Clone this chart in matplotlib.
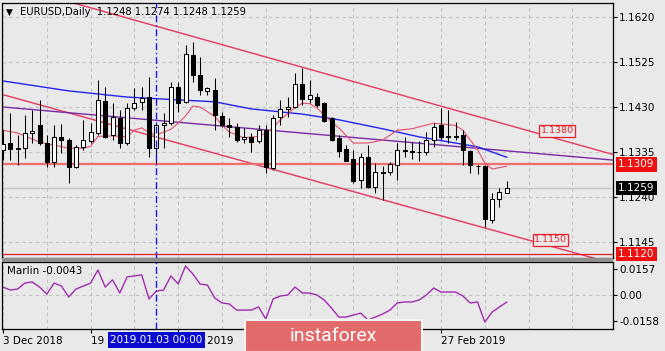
import matplotlib
matplotlib.use('Agg')
import matplotlib.pyplot as plt
import matplotlib.transforms as mtransforms
from matplotlib.patches import Rectangle

# ---------------- data ----------------
opens = [1.1340, 1.1354, 1.1341, 1.1343, 1.1375, 1.1392, 1.1354, 1.1314, 1.1367, 1.1360,
         1.1303, 1.1345, 1.1358, 1.1375, 1.1443, 1.1371, 1.1407, 1.1354, 1.1428, 1.1441,
         1.1451, 1.1343, 1.1392, 1.1396, 1.1472, 1.1441, 1.1540, 1.1498, 1.1464, 1.1466,
         1.1411, 1.1392, 1.1388, 1.1363, 1.1367, 1.1358, 1.1382, 1.1302, 1.1409, 1.1426,
         1.1430, 1.1479, 1.1447, 1.1451, 1.1438, 1.1407, 1.1365, 1.1341, 1.1320, 1.1276,
         1.1324, 1.1261, 1.1293, 1.1293, 1.1308, 1.1339, 1.1337, 1.1335, 1.1335, 1.1360,
         1.1392, 1.1367, 1.1369, 1.1371, 1.1337, 1.1306, 1.1306, 1.1192, 1.1236, 1.1248]
highs = [1.1381, 1.1417, 1.1371, 1.1413, 1.1424, 1.1445, 1.1371, 1.1392, 1.1394, 1.1365,
         1.1350, 1.1403, 1.1396, 1.1487, 1.1472, 1.1438, 1.1424, 1.1438, 1.1470, 1.1472,
         1.1493, 1.1396, 1.1417, 1.1483, 1.1483, 1.1561, 1.1567, 1.1536, 1.1472, 1.1491,
         1.1419, 1.1407, 1.1396, 1.1385, 1.1375, 1.1392, 1.1392, 1.1413, 1.1445, 1.1451,
         1.1502, 1.1512, 1.1487, 1.1460, 1.1441, 1.1409, 1.1371, 1.1350, 1.1339, 1.1333,
         1.1350, 1.1312, 1.1305, 1.1314, 1.1354, 1.1367, 1.1356, 1.1358, 1.1377, 1.1396,
         1.1428, 1.1424, 1.1398, 1.1381, 1.1339, 1.1308, 1.1308, 1.1248, 1.1259, 1.1274]
lows = [1.1318, 1.1318, 1.1308, 1.1322, 1.1354, 1.1350, 1.1303, 1.1303, 1.1333, 1.1270,
        1.1301, 1.1339, 1.1354, 1.1371, 1.1365, 1.1360, 1.1343, 1.1350, 1.1424, 1.1424,
        1.1324, 1.1312, 1.1343, 1.1392, 1.1419, 1.1438, 1.1483, 1.1455, 1.1455, 1.1381,
        1.1388, 1.1367, 1.1356, 1.1355, 1.1335, 1.1354, 1.1291, 1.1297, 1.1392, 1.1409,
        1.1428, 1.1434, 1.1438, 1.1430, 1.1398, 1.1358, 1.1324, 1.1316, 1.1270, 1.1259,
        1.1259, 1.1248, 1.1234, 1.1287, 1.1276, 1.1324, 1.1320, 1.1316, 1.1329, 1.1346,
        1.1360, 1.1354, 1.1360, 1.1308, 1.1291, 1.1288, 1.1177, 1.1185, 1.1219, 1.1248]
closes = [1.1352, 1.1341, 1.1343, 1.1375, 1.1379, 1.1354, 1.1314, 1.1367, 1.1360, 1.1303,
          1.1345, 1.1360, 1.1377, 1.1445, 1.1367, 1.1409, 1.1354, 1.1428, 1.1438, 1.1449,
          1.1343, 1.1392, 1.1396, 1.1472, 1.1438, 1.1542, 1.1498, 1.1466, 1.1470, 1.1413,
          1.1392, 1.1388, 1.1360, 1.1366, 1.1357, 1.1382, 1.1303, 1.1407, 1.1426, 1.1430,
          1.1479, 1.1447, 1.1455, 1.1434, 1.1400, 1.1360, 1.1337, 1.1316, 1.1274, 1.1324,
          1.1261, 1.1293, 1.1291, 1.1310, 1.1339, 1.1337, 1.1335, 1.1335, 1.1360, 1.1388,
          1.1367, 1.1369, 1.1367, 1.1339, 1.1308, 1.1305, 1.1194, 1.1236, 1.1250, 1.1259]

marlin = [0.0048, 0.0030, 0.0036, 0.0072, 0.0079, 0.0048, 0.0006, 0.0072, 0.0054, -0.0012,
          0.0036, 0.0054, 0.0072, 0.0151, 0.0048, 0.0091, 0.0012, 0.0109, 0.0115, 0.0121,
          -0.0024, 0.0024, 0.0030, 0.0115, 0.0066, 0.0175, 0.0127, 0.0066, 0.0060, -0.0018,
          -0.0048, -0.0054, -0.0091, -0.0091, -0.0091, -0.0072, -0.0145, -0.0024, -0.0006, 0.0000,
          0.0048, 0.0012, 0.0012, 0.0000, -0.0030, -0.0079, -0.0133, -0.0133, -0.0121, -0.0109,
          -0.0151, -0.0133, -0.0115, -0.0091, -0.0048, -0.0042, -0.0042, -0.0030, 0.0000, 0.0042,
          0.0018, 0.0018, 0.0018, -0.0006, -0.0048, -0.0042, -0.0163, -0.0103, -0.0072, -0.0043]

blue_ma_bars = [0, 9, 17, 24, 29, 34, 41, 46, 52, 57, 65, 69]
blue_ma_vals = [1.1485, 1.1464, 1.1451, 1.1445, 1.1441, 1.1426, 1.1415, 1.1403, 1.1384,
                1.1367, 1.1346, 1.1324]

red_ma_bars = [0, 2, 5, 9, 11, 12, 13, 15, 17, 18, 19, 20, 21, 23, 24, 25, 26, 27, 29, 30,
               31, 33, 35, 36, 37, 38, 40, 41, 42, 43, 45, 46, 48, 50, 52, 54, 56, 59, 62,
               63, 65, 66, 67, 69]
red_ma_vals = [1.1381, 1.1375, 1.1356, 1.1343, 1.1343, 1.1347, 1.1368, 1.1369, 1.1367, 1.1381,
               1.1386, 1.1376, 1.1371, 1.1383, 1.1396, 1.1411, 1.1432, 1.1430, 1.1410, 1.1392,
               1.1377, 1.1365, 1.1368, 1.1375, 1.1386, 1.1403, 1.1429, 1.1438, 1.1437, 1.1428,
               1.1398, 1.1386, 1.1354, 1.1354, 1.1360, 1.1381, 1.1384, 1.1396, 1.1391,
               1.1381, 1.1340, 1.1312, 1.1299, 1.1305]

line_bars = [0, 83.5]
channel_upper = [1.16915, 1.1330]
channel_lower = [1.1456, 1.1100]
purple_line = [1.1430, 1.1318]

support_level = 1.1309
low_level = 1.1120
label_upper = (75.9, 1.1380)
label_lower = (75.0, 1.1150)

price_ticks = [1.1620, 1.1525, 1.1430, 1.1335, 1.1240, 1.1145]
marlin_ticks = [0.0157, 0.0, -0.0158]
marlin_tick_labels = ['0.0157', '0.00', '-0.0158']
# labels at 24 Jan / 11 Feb are fully hidden by the watermark in the reference
date_bars = [0, 12, 24, 36, 48, 60]
date_labels = ['3 Dec 2018', '19 Dec 2018', '8 Jan 2019', '', '', '27 Feb 2019']
cursor_bar = 21
cursor_label = '2019.01.03 00:00'

# ---------------- layout ----------------
W, H = 665, 351
def fx(px): return px / W
def fy(py): return 1 - py / H

bg = '#e9e9e9'
grid_c = '#c2c2c2'
fs = 7.5
plt.rcParams['font.family'] = ['DejaVu Sans']

fig = plt.figure(figsize=(6.65, 3.51), dpi=100)
fig.patch.set_facecolor(bg)

ax = fig.add_axes([fx(2), fy(258), fx(613) - fx(2), fy(3) - fy(258)])
ax2 = fig.add_axes([fx(2), fy(329), fx(613) - fx(2), fy(262) - fy(329)])
for a in (ax, ax2):
    a.set_facecolor(bg)
    for s in a.spines.values():
        s.set_color('black')
        s.set_linewidth(0.9)

xmin, xmax = -0.14, 83.56
ax.set_xlim(xmin, xmax)
ax.set_ylim(1.11112, 1.16496)
ax2.set_xlim(xmin, xmax)
ax2.set_ylim(-0.0205, 0.0199)

# grid
n = len(opens)
for gb in range(0, 84, 6):
    ax.axvline(gb, color=grid_c, lw=0.8, ls=(0, (3, 3)), zorder=0)
    ax2.axvline(gb, color=grid_c, lw=0.8, ls=(0, (3, 3)), zorder=0)
for pt in price_ticks:
    ax.axhline(pt, color=grid_c, lw=0.8, ls=(0, (3, 3)), zorder=0)
ax2.axhline(0.0, color=grid_c, lw=0.8, ls=(0, (3, 3)), zorder=0)

# current price line
ax.axhline(closes[-1], color='#c4c4c4', lw=1.0, zorder=0.5)

# channel / levels
ax.plot(line_bars, channel_upper, color='#e6385e', lw=1.0, zorder=1)
ax.plot(line_bars, channel_lower, color='#e6385e', lw=1.0, zorder=1)
ax.plot(line_bars, purple_line, color='#7a2aa8', lw=1.0, zorder=1)
ax.axhline(support_level, color='#f07070', lw=1.6, zorder=1)
ax.axhline(low_level, color='#e02020', lw=0.9, zorder=1)

# moving averages
ax.plot(blue_ma_bars, blue_ma_vals, color='#2424f2', lw=1.0, zorder=1.5)
ax.plot(red_ma_bars, red_ma_vals, color='#e8506e', lw=0.8, zorder=1.5)

# candles
xs = list(range(n))
ax.vlines(xs, lows, highs, color='black', lw=0.75, zorder=2)
body_bottom = [min(o, c) for o, c in zip(opens, closes)]
body_h = [abs(c - o) for o, c in zip(opens, closes)]
body_col = ['white' if c >= o else 'black' for o, c in zip(opens, closes)]
ax.bar(xs, body_h, bottom=body_bottom, width=0.55, color=body_col,
       edgecolor='black', linewidth=0.75, zorder=3)

# cursor line
for a in (ax, ax2):
    a.axvline(cursor_bar, color='#1a1ae0', lw=1.0, ls=(0, (5, 2, 1, 2)), zorder=4)

# labels on chart
ax.text(label_upper[0], label_upper[1], f'{label_upper[1]:.4f}', color='#e8202a',
        fontsize=6.8, ha='center', va='center', zorder=5,
        bbox=dict(boxstyle='square,pad=0.15', fc=bg, ec='#e8202a', lw=0.9))
ax.text(label_lower[0], label_lower[1], f'{label_lower[1]:.4f}', color='#e8202a',
        fontsize=6.8, ha='center', va='center', zorder=5,
        bbox=dict(boxstyle='square,pad=0.15', fc=bg, ec='#e8202a', lw=0.9))

# y axis (right)
ax.yaxis.tick_right()
ax.set_yticks(price_ticks)
ax.set_yticklabels([f'{p:.4f}' for p in price_ticks])
ax.tick_params(axis='y', direction='out', length=3, width=0.8, pad=1.5, labelsize=fs, colors='black')
ax.set_xticks([])

trans = mtransforms.blended_transform_factory(ax.transAxes, ax.transData)
for val, fc in ((support_level, '#f01010'), (closes[-1], 'black'), (low_level, '#f01010')):
    ax.text(1.0085, val, f'{val:.4f}', transform=trans, color='white', fontsize=fs,
            ha='left', va='center', zorder=6, clip_on=False,
            bbox=dict(boxstyle='square,pad=0.22', fc=fc, ec='none'))

ax2.yaxis.tick_right()
ax2.set_yticks(marlin_ticks)
ax2.set_yticklabels(marlin_tick_labels)
ax2.tick_params(axis='y', direction='out', length=3, width=0.8, pad=1.5, labelsize=fs)

ax2.plot(xs, marlin, color='#a02cb0', lw=1.0, zorder=2)

ax2.set_xticks(date_bars)
ax2.set_xticklabels(date_labels)
for lab in ax2.get_xticklabels():
    lab.set_horizontalalignment('left')
ax2.tick_params(axis='x', direction='out', length=3, width=0.8, pad=2, labelsize=fs)

trans2 = mtransforms.blended_transform_factory(ax2.transData, ax2.transAxes)
ax2.text(cursor_bar, -0.165, cursor_label, transform=trans2, color='white', fontsize=fs,
         ha='center', va='center', zorder=10, clip_on=False,
         bbox=dict(boxstyle='square,pad=0.25', fc='#0a0ad0', ec='none'))

# separator between panels
fig.add_artist(Rectangle((fx(2), fy(262)), fx(613) - fx(2), fy(258) - fy(262),
                         transform=fig.transFigure, fc='#8e8e8e', ec='none', zorder=5))

# header texts
fig.text(fx(6), fy(12), '\u25BC', fontsize=6.5, va='center', ha='left', color='black')
fig.text(fx(20), fy(12),
         f'EURUSD,Daily  {opens[-1]:.4f} {highs[-1]:.4f} {lows[-1]:.4f} {closes[-1]:.4f}',
         fontsize=7.2, va='center', ha='left', color='black')
fig.text(fx(7), fy(271), f'Marlin {marlin[-1]:.4f}', fontsize=fs, va='center', ha='left', color='black')

# watermark
fig.add_artist(Rectangle((fx(245), fy(352)), fx(422) - fx(245), fy(320) - fy(352),
                         transform=fig.transFigure, fc='#e36a6a', ec='#f4f4f4', lw=1.5, zorder=20))
fig.text(fx(333), fy(336), 'instaforex', fontsize=14, color='white', ha='center', va='center',
         family=['Roboto', 'DejaVu Sans'], zorder=21)

fig.savefig('out.png', dpi=100, facecolor=bg)
